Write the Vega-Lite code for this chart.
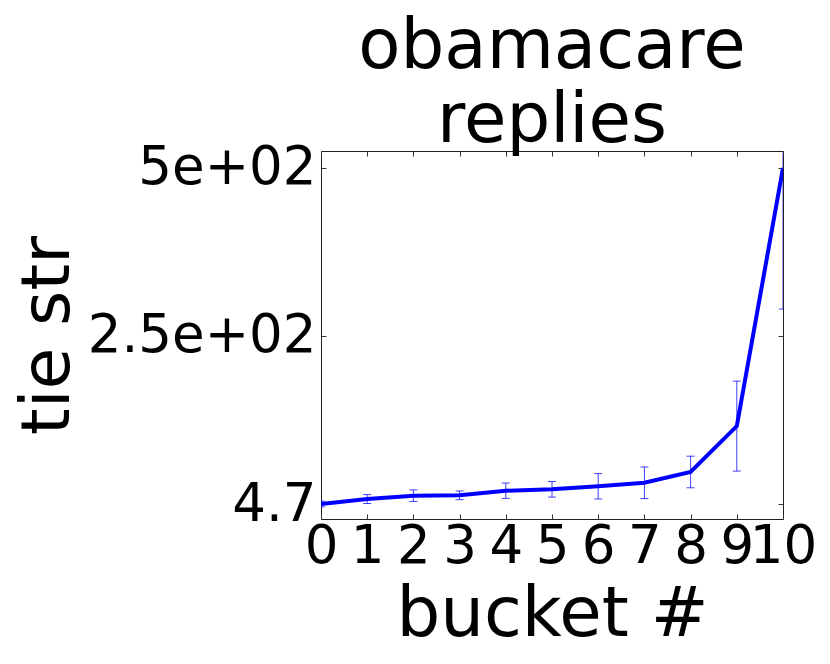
{
  "$schema": "https://vega.github.io/schema/vega-lite/v6.json",
  "autosize": {"type": "none"},
  "width": 462,
  "height": 368,
  "padding": {"left": 321, "top": 151, "right": 47, "bottom": 145},
  "background": "white",
  "config": {
    "font": "DejaVu Sans",
    "view": {"stroke": "#222", "strokeWidth": 1},
    "axis": {"grid": false, "domain": false, "tickColor": "#333", "tickSize": -5, "tickWidth": 1, "labelOverlap": false, "labelBound": false, "labelFlush": false, "labelLimit": 400, "labelColor": "black", "titleColor": "black", "labelFont": "DejaVu Sans", "titleFont": "DejaVu Sans", "labelFontWeight": "normal", "titleFontWeight": "normal"}
  },
  "title": {
    "text": ["obamacare", "replies"],
    "fontSize": 69,
    "fontWeight": "normal",
    "font": "DejaVu Sans",
    "color": "black",
    "anchor": "middle",
    "lineHeight": 74,
    "baseline": "alphabetic",
    "offset": 9,
    "dy": 78
  },
  "data": {
    "values": [
      {"bucket": 0, "y": 4.7, "lo": 0.5, "hi": 8.9},
      {"bucket": 1, "y": 12, "lo": 5.4, "hi": 18.6},
      {"bucket": 2, "y": 17, "lo": 8.5, "hi": 25.5},
      {"bucket": 3, "y": 17.5, "lo": 11.1, "hi": 23.9},
      {"bucket": 4, "y": 24.3, "lo": 13, "hi": 35.6},
      {"bucket": 5, "y": 26.4, "lo": 14.9, "hi": 37.9},
      {"bucket": 6, "y": 30.8, "lo": 12.1, "hi": 49.5},
      {"bucket": 7, "y": 36, "lo": 12.7, "hi": 59.3},
      {"bucket": 8, "y": 51.9, "lo": 28.6, "hi": 75.2},
      {"bucket": 9, "y": 119.5, "lo": 53.2, "hi": 185.8},
      {"bucket": 10, "y": 500, "lo": 292, "hi": 708}
    ]
  },
  "encoding": {
    "x": {"field": "bucket", "type": "quantitative", "scale": {"domain": [0, 10], "nice": false, "zero": false}}
  },
  "layer": [
    {
      "mark": {"type": "rule", "color": "#0000ff", "opacity": 0.75, "strokeWidth": 1, "clip": true},
      "encoding": {
        "x": {"field": "bucket", "type": "quantitative", "axis": {"orient": "bottom", "values": [0,1,2,3,4,5,6,7,8,9,10], "labelFontSize": 53, "labelPadding": 6, "title": "bucket #", "titleFontSize": 69, "titleBaseline": "alphabetic", "titleY": 116, "titleX": 231}},
        "y": {"field": "lo", "type": "quantitative", "scale": {"domain": [-17.4, 525], "nice": false, "zero": false}, "axis": {"orient": "left", "values": [4.7, 252.35, 500], "labelExpr": "datum.value < 10 ? '4.7' : datum.value > 400 ? '5e+02' : '2.5e+02'", "labelFontSize": 53, "labelPadding": 10, "labelBaseline": "middle", "title": "tie str", "titleFontSize": 68, "titleAngle": -90, "titleBaseline": "alphabetic", "titleAlign": "center", "titleX": -253, "titleY": 184}},
        "y2": {"field": "hi"}
      }
    },
    {
      "mark": {"type": "tick", "orient": "horizontal", "color": "#0000ff", "opacity": 0.75, "size": 8, "thickness": 1, "clip": true},
      "encoding": {
        "x": {"field": "bucket", "type": "quantitative", "axis": {"orient": "top", "values": [0,1,2,3,4,5,6,7,8,9,10], "labels": false, "title": null}},
        "y": {"field": "lo", "type": "quantitative", "axis": {"orient": "right", "values": [4.7, 252.35, 500], "labels": false, "title": null}}
      }
    },
    {
      "mark": {"type": "tick", "orient": "horizontal", "color": "#0000ff", "opacity": 0.75, "size": 8, "thickness": 1, "clip": true},
      "encoding": {
        "x": {"field": "bucket", "type": "quantitative", "axis": null},
        "y": {"field": "hi", "type": "quantitative", "axis": null}
      }
    },
    {
      "mark": {"type": "line", "color": "#0000ff", "strokeWidth": 4, "clip": true},
      "encoding": {
        "x": {"field": "bucket", "type": "quantitative", "axis": null},
        "y": {"field": "y", "type": "quantitative", "axis": null}
      }
    }
  ],
  "resolve": {"axis": {"x": "independent", "y": "independent"}}
}
